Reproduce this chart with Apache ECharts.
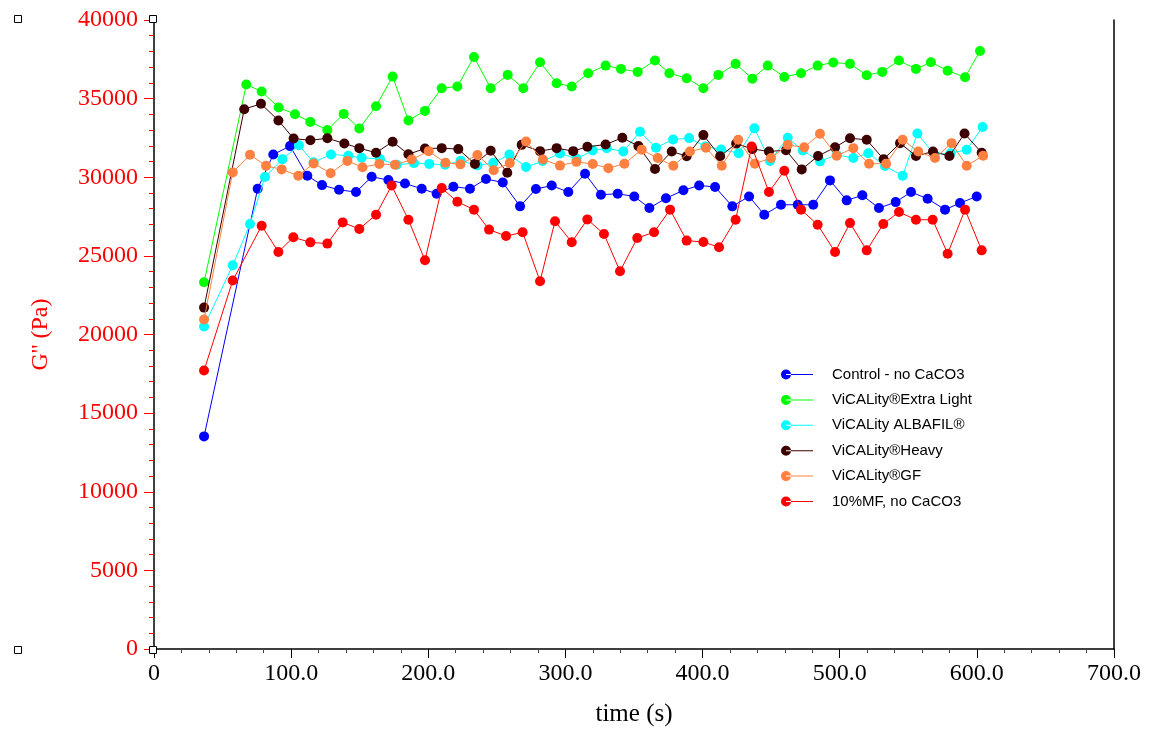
<!DOCTYPE html>
<html>
<head>
<meta charset="utf-8">
<script src="https://cdn.jsdelivr.net/npm/echarts@6/dist/echarts.min.js"></script>
<style>
html,body{margin:0;padding:0;background:#fff;}
#chart{width:1149px;height:732px;}
</style>
</head>
<body>
<div id="chart"></div>
<script>
// ---- data (time in s, G'' in Pa) ----
var seriesNames = ['Control - no CaCO3', 'ViCALity\u00AEExtra Light', 'ViCALity ALBAFIL\u00AE', 'ViCALity\u00AEHeavy', 'ViCALity\u00AEGF', '10%MF, no CaCO3'];
var seriesColors = ['#0000ff', '#00ff00', '#00ffff', '#3c0000', '#ff8040', '#ff0000'];

var controlT = [36.5, 75.6, 87, 99.2, 111.8, 122.5, 134.9, 147.3, 158.7, 170.9, 183, 195.2, 206.1, 218.3, 230.4, 242.1, 254.3, 266.9, 278.5, 290, 302.1, 314.3, 325.9, 338.1, 350.2, 361.2, 373.3, 386, 397.5, 409.1, 421.7, 433.9, 445, 457.2, 469.4, 480.7, 492.9, 505.1, 516.5, 528.6, 540.8, 552, 564.1, 576.8, 587.7, 599.9];
var controlG = [13520, 29270, 31450, 31980, 30100, 29500, 29200, 29060, 30030, 29820, 29600, 29270, 28950, 29400, 29270, 29890, 29670, 28150, 29250, 29470, 29060, 30220, 28890, 28950, 28780, 28040, 28660, 29170, 29480, 29380, 28150, 28780, 27620, 28250, 28250, 28250, 29800, 28530, 28850, 28040, 28420, 29060, 28630, 27940, 28360, 28780];

var extraLightT = [36.5, 67.3, 78.5, 90.9, 102.8, 114, 126.4, 138.3, 149.7, 161.9, 174, 185.5, 197.6, 209.8, 221.2, 233.3, 245.5, 257.9, 269.3, 281.5, 293.6, 304.6, 316.6, 329.3, 340.5, 352.7, 365.3, 375.8, 388.4, 400.6, 411.5, 424.1, 436.3, 447.5, 459.6, 471.8, 483.9, 495.3, 507.5, 519.7, 531, 543.2, 555.6, 566.5, 578.7, 591.4, 602.3];
var extraLightG = [23320, 35900, 35450, 34440, 34010, 33520, 33000, 34030, 33100, 34520, 36400, 33610, 34220, 35660, 35770, 37650, 35660, 36510, 35660, 37310, 35980, 35770, 36610, 37100, 36890, 36700, 37420, 36610, 36300, 35660, 36510, 37210, 36270, 37100, 36380, 36610, 37100, 37300, 37210, 36490, 36700, 37420, 36890, 37310, 36780, 36360, 38030];

var albafilT = [36.5, 57.4, 70, 80.9, 93.6, 105.7, 116.4, 129.1, 141.7, 151.4, 164.8, 177, 189.6, 200.7, 212.2, 223.6, 235.8, 247.4, 259.1, 271.3, 283.4, 296, 308.2, 319.9, 330.1, 342.2, 354.4, 366, 378.5, 390.2, 402, 413.5, 426.3, 437.8, 449.2, 462.1, 473, 485.6, 497.8, 509.9, 520.8, 533, 545.9, 556.6, 569, 580.9, 592.6, 604.2];
var albafilG = [20510, 24400, 27030, 30020, 31150, 32030, 30950, 31450, 31370, 31240, 31160, 30790, 30900, 30850, 30790, 31050, 30750, 30920, 31440, 30650, 31030, 31510, 31170, 31700, 31850, 31640, 32890, 31880, 32400, 32490, 31960, 31770, 31530, 33110, 31040, 32510, 31700, 31010, 31430, 31220, 31530, 30710, 30100, 32780, 31450, 31530, 31750, 33200];

var heavyT = [36.5, 65.8, 78, 90.7, 101.8, 114, 126.4, 138.8, 149.7, 161.9, 174, 185.5, 197.6, 209.8, 221.9, 234, 245.5, 257.6, 268.1, 281.5, 293.6, 305.7, 316, 329.3, 341.5, 353.2, 365.3, 377.5, 388.4, 400.6, 412.8, 424.5, 436.3, 448.4, 460.8, 472.3, 484.2, 496.6, 507.5, 519.7, 532, 544, 555.6, 568, 580, 591, 603.5];
var heavyG = [21710, 34330, 34670, 33610, 32460, 32350, 32480, 32150, 31850, 31560, 32260, 31460, 31830, 31850, 31790, 30850, 31680, 30290, 32060, 31660, 31850, 31660, 31940, 32080, 32510, 31980, 30520, 31640, 31340, 32680, 31330, 32140, 31800, 31640, 31720, 30500, 31350, 31900, 32480, 32380, 31150, 32170, 31350, 31640, 31350, 32780, 31560];

var gfT = [36.5, 57.4, 70, 81.7, 93.1, 105.2, 116.4, 128.8, 141, 152, 164.3, 175.7, 187.9, 200.3, 212.5, 223.4, 235.8, 247.7, 259.4, 271.3, 283.6, 296, 308, 319.9, 331.3, 343, 355.6, 367.3, 378.7, 390.8, 402.5, 414, 426, 438.1, 449.9, 462.1, 474.1, 485.6, 497.8, 509.9, 521.4, 533.8, 545.9, 557.3, 569.5, 581.6, 592.6, 604.6];
var gfG = [20950, 30310, 31430, 30730, 30500, 30100, 30880, 30250, 31040, 30640, 30840, 30790, 31130, 31660, 30920, 30820, 31420, 30450, 30900, 32270, 31130, 30740, 30980, 30840, 30580, 30860, 31750, 31220, 30730, 31640, 31880, 30730, 32380, 30860, 31220, 32060, 31900, 32760, 31370, 31850, 30860, 30860, 32380, 31640, 31220, 32170, 30730, 31370];

var mfT = [36.5, 57.4, 78.5, 90.7, 101.6, 114, 126.4, 137.6, 149.7, 161.9, 173.3, 185.5, 197.6, 209.8, 221.2, 233.3, 244.3, 256.7, 268.8, 281.5, 292.4, 304.6, 316, 328.1, 339.8, 352.4, 364.6, 376.3, 388.4, 400.6, 412, 424.1, 435.8, 448.4, 459.6, 471.8, 483.9, 496.6, 507.5, 519.7, 531.8, 543.2, 555.6, 567.8, 578.7, 591.4, 603.5];
var mfG = [17710, 23430, 26920, 25250, 26180, 25860, 25780, 27130, 26710, 27620, 29470, 27300, 24720, 29310, 28440, 27940, 26670, 26260, 26500, 23390, 27200, 25870, 27320, 26390, 24020, 26140, 26500, 27940, 25970, 25880, 25550, 27300, 31960, 29060, 30410, 27940, 26980, 25250, 27090, 25350, 27030, 27790, 27300, 27300, 25140, 27940, 25350];

var xAxisTitle = 'time (s)';
var yAxisTitle = "G'' (Pa)";

// ---- build ----
function pairs(t, g) { return t.map(function (v, i) { return [v, g[i]]; }); }
var allT = [controlT, extraLightT, albafilT, heavyT, gfT, mfT];
var allG = [controlG, extraLightG, albafilG, heavyG, gfG, mfG];

var legendIcon = 'path://M0,5 A5,5 0 1,0 10,5 A5,5 0 1,0 0,5 Z M5,4.5 L32,4.5 L32,5.5 L5,5.5 Z';

var series = seriesNames.map(function (name, i) {
  return {
    name: name,
    type: 'line',
    data: pairs(allT[i], allG[i]),
    symbol: 'circle',
    symbolSize: 10,
    showSymbol: true,
    color: seriesColors[i],
    lineStyle: { width: 1, color: seriesColors[i] },
    itemStyle: { color: seriesColors[i] },
    emphasis: { disabled: true },
    animation: false,
    z: 2 + i
  };
});

var serif = 'Liberation Serif, Times New Roman, serif';

function handle(x, y) {
  return { type: 'rect', shape: { x: x - 3.5, y: y - 3.5, width: 7, height: 7 }, style: { fill: '#fff', stroke: '#000', lineWidth: 1 }, z: 100 };
}

var chart = echarts.init(document.getElementById('chart'), null, { renderer: 'canvas' });
chart.setOption({
  animation: false,
  backgroundColor: '#ffffff',
  grid: { left: 154, right: 35, top: 20, bottom: 82, containLabel: false },
  legend: {
    orient: 'vertical',
    left: 776,
    top: 362,
    itemWidth: 32,
    itemHeight: 10,
    itemGap: 10.4,
    icon: legendIcon,
    selectedMode: false,
    textStyle: { fontFamily: 'Liberation Sans, Arial, sans-serif', fontSize: 15, color: '#000', padding: [0, 0, 0, 14], lineHeight: 15 },
    data: seriesNames.map(function (n, i) { return { name: n, itemStyle: { color: seriesColors[i] } }; })
  },
  xAxis: {
    type: 'value',
    min: 0, max: 700, interval: 100,
    name: xAxisTitle,
    nameLocation: 'middle',
    nameGap: 53,
    nameTextStyle: { fontFamily: serif, fontSize: 25, color: '#000' },
    axisLine: { show: true, lineStyle: { color: '#000', width: 1.5 } },
    axisTick: { show: true, inside: false, length: 9, lineStyle: { color: '#000' } },
    minorTick: { show: true, splitNumber: 5, length: 4, lineStyle: { color: '#444' } },
    splitLine: { show: false },
    axisLabel: { fontFamily: serif, fontSize: 24, color: '#000', margin: 13,
      formatter: function (v) { return v === 0 ? '0' : v.toFixed(1); } }
  },
  yAxis: [{
    type: 'value',
    min: 0, max: 40000, interval: 5000,
    name: yAxisTitle,
    nameLocation: 'middle',
    nameGap: 101,
    nameRotate: 90,
    nameTextStyle: { fontFamily: serif, fontSize: 24, color: '#ff0000' },
    axisLine: { show: true, lineStyle: { color: '#000', width: 1.5 } },
    axisTick: { show: true, inside: false, length: 10, lineStyle: { color: '#ff0000' } },
    minorTick: { show: true, splitNumber: 5, length: 5, lineStyle: { color: '#ff0000' } },
    splitLine: { show: false },
    axisLabel: { fontFamily: serif, fontSize: 24, color: '#ff0000', margin: 16,
      formatter: function (v) { return String(v); } }
  }, {
    type: 'value',
    position: 'right',
    min: 0, max: 40000, interval: 5000,
    axisLine: { show: true, lineStyle: { color: '#000', width: 1.5 } },
    axisTick: { show: false },
    axisLabel: { show: false },
    splitLine: { show: false }
  }],
  graphic: [handle(18, 19), handle(153, 19), handle(18, 650), handle(153, 650)],
  series: series
});
</script>
</body>
</html>
